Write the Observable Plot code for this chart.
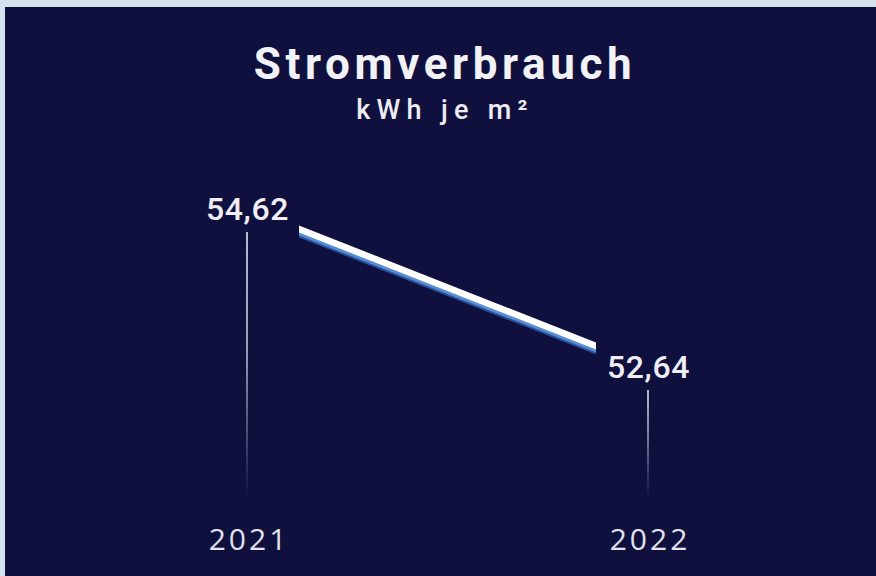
<!DOCTYPE html>
<html>
<head>
<meta charset="utf-8">
<script src="https://cdn.jsdelivr.net/npm/d3@7"></script>
<script src="https://cdn.jsdelivr.net/npm/@observablehq/plot@0.6"></script>
<style>
  html, body { margin: 0; padding: 0; }
  body { width: 876px; height: 576px; background: #d6e2ee; position: relative; overflow: hidden; }
  #panel { position: absolute; left: 5px; top: 7px; width: 871px; height: 569px; background: #10103f; }
  #title { position: absolute; left: 0; width: 890px; top: 38px; text-align: center; color: #f2f2f6;
           font-family: "Roboto", sans-serif; font-weight: 700; font-size: 44px; letter-spacing: 4.6px; line-height: 52px; }
  #subtitle { position: absolute; left: 0; width: 890px; top: 93px; text-align: center; color: #ececf2;
           font-family: "Roboto", sans-serif; font-weight: 500; font-size: 27px; letter-spacing: 6.3px; line-height: 34px; }
  #chart { position: absolute; left: 0; top: 150px; }
</style>
</head>
<body>
<div id="panel"></div>
<div id="title">Stromverbrauch</div>
<div id="subtitle">kWh je m²</div>
<div id="chart"></div>
<script>
const years = [2021, 2022];
const values = [54.62, 52.64];
const labels = ["54,62", "52,64"];
const yearLabels = ["2021", "2022"];

const points = years.map((year, i) => ({year, value: values[i], label: labels[i], yearLabel: yearLabels[i]}));
const segments = [{x1: years[0], y1: values[0], x2: years[1], y2: values[1]}];

const ns = "http://www.w3.org/2000/svg";
const gap = 52;

function bandLine(index, scales, vals, dims, context) {
  const doc = context.document;
  const g = doc.createElementNS(ns, "g");
  const defs = doc.createElementNS(ns, "defs");
  defs.innerHTML = '<filter id="soft" x="-5%" y="-50%" width="110%" height="200%"><feGaussianBlur stdDeviation="0.6"/></filter>';
  g.appendChild(defs);
  g.setAttribute("filter", "url(#soft)");
  for (const i of index) {
    const ax = vals.x1[i], ay = vals.y1[i], bx = vals.x2[i], by = vals.y2[i];
    const s = (by - ay) / (bx - ax);
    const sx = ax + gap, sy = ay + s * gap;
    const ex = bx - gap, ey = by - s * gap;
    const bands = [
      {top: 1, bottom: 8, fill: "#2a5aa8", opacity: 0.85},
      {top: 2, bottom: 6, fill: "#5d93dc", opacity: 0.9},
      {top: -4, bottom: 3, fill: "#ffffff", opacity: 1}
    ];
    for (const b of bands) {
      const p = doc.createElementNS(ns, "path");
      p.setAttribute("d", `M${sx},${sy + b.top}L${ex},${ey + b.top}L${ex},${ey + b.bottom}L${sx},${sy + b.bottom}Z`);
      p.setAttribute("fill", b.fill);
      p.setAttribute("fill-opacity", b.opacity);
      g.appendChild(p);
    }
  }
  return g;
}

function fadingRules(index, scales, vals, dims, context) {
  const doc = context.document;
  const g = doc.createElementNS(ns, "g");
  const defs = doc.createElementNS(ns, "defs");
  g.appendChild(defs);
  const bottom = dims.height - dims.marginBottom;
  for (const i of index) {
    const x = vals.x[i];
    const top = vals.y[i] + 23;
    const id = "fade" + i;
    const grad = doc.createElementNS(ns, "linearGradient");
    grad.setAttribute("id", id);
    grad.setAttribute("gradientUnits", "userSpaceOnUse");
    grad.setAttribute("x1", 0); grad.setAttribute("x2", 0);
    grad.setAttribute("y1", top); grad.setAttribute("y2", bottom);
    const stops = i === 0
      ? [[0, 0.8], [0.45, 0.65], [0.75, 0.3], [1, 0]]
      : [[0, 0.8], [0.45, 0.5], [1, 0]];
    for (const [o, a] of stops) {
      const st = doc.createElementNS(ns, "stop");
      st.setAttribute("offset", o);
      st.setAttribute("stop-color", "#e2e6f4");
      st.setAttribute("stop-opacity", a);
      grad.appendChild(st);
    }
    defs.appendChild(grad);
    const r = doc.createElementNS(ns, "rect");
    r.setAttribute("x", x - 1);
    r.setAttribute("width", 2);
    r.setAttribute("y", top);
    r.setAttribute("height", bottom - top);
    r.setAttribute("fill", `url(#${id})`);
    g.appendChild(r);
  }
  return g;
}

const spaced = (px) => (index, scales, vals, dims, context, next) => {
  const g = next(index, scales, vals, dims, context);
  g.style.letterSpacing = px + "px";
  return g;
};

const plot = Plot.plot({
  width: 876,
  height: 426,
  marginTop: 20,
  marginBottom: 80,
  marginLeft: 20,
  marginRight: 20,
  style: {background: "transparent", color: "#e4e4ec", overflow: "visible"},
  x: {domain: years, range: [247, 648], type: "linear", label: null, axis: null},
  y: {domain: [values[1], values[0]], range: [217, 59], axis: null},
  marks: [
    Plot.text(points, {x: "year", frameAnchor: "bottom", dy: 44, dx: 1.5, lineAnchor: "middle", text: "yearLabel",
      fontSize: 30, fill: "#e2e2ea", fontFamily: "'Open Sans', sans-serif", render: spaced(3)}),
    Plot.dot(points, {x: "year", y: "value", r: 0, render: fadingRules}),
    Plot.link(segments, {x1: "x1", y1: "y1", x2: "x2", y2: "y2", render: bandLine}),
    Plot.text(points, {x: "year", y: "value", text: "label", fill: "#eeeef4", fontSize: 32,
      fontFamily: "Roboto, sans-serif", fontWeight: 500, render: spaced(0.6)})
  ]
});
document.getElementById("chart").appendChild(plot);
</script>
</body>
</html>
